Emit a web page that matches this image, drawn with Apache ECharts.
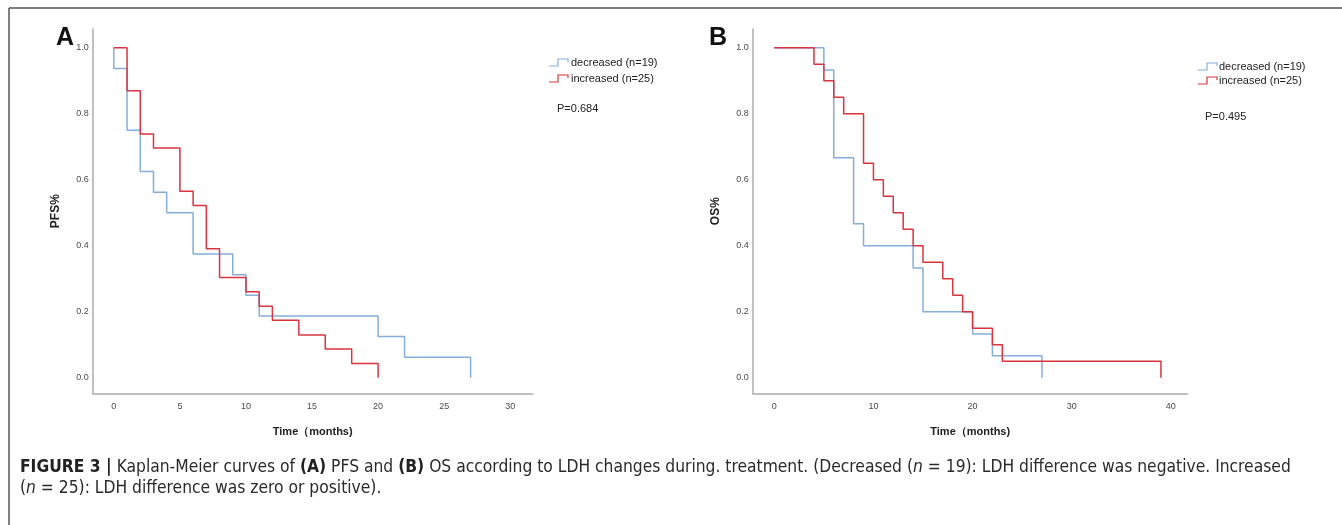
<!DOCTYPE html>
<html>
<head>
<meta charset="utf-8">
<script src="https://cdn.jsdelivr.net/npm/echarts@6/dist/echarts.min.js"></script>
<style>
html,body{margin:0;padding:0;background:#fff;}
#chart{width:1342px;height:525px;}
</style>
</head>
<body>
<div id="chart"></div>
<script>
// A: PFS
var pfs_dec_t = [0, 0, 1, 2, 3, 4, 6, 9, 10, 11, 20, 22, 27];
var pfs_dec_s = [1, 0.9375, 0.75, 0.625, 0.5625, 0.5, 0.375, 0.3125, 0.25, 0.1875, 0.125, 0.0625, 0];
var pfs_inc_t = [0, 1, 2, 3, 5, 6, 7, 8, 10, 11, 12, 14, 16, 18, 20];
var pfs_inc_s = [1, 0.87, 0.739, 0.696, 0.565, 0.522, 0.391, 0.304, 0.261, 0.217, 0.174, 0.13, 0.087, 0.043, 0];
// B: OS
var os_dec_t = [0, 5, 6, 8, 9, 14, 15, 20, 22, 27];
var os_dec_s = [1, 0.933, 0.667, 0.467, 0.4, 0.333, 0.2, 0.133, 0.067, 0];
var os_inc_t = [0, 4, 5, 6, 7, 9, 10, 11, 12, 13, 14, 15, 17, 18, 19, 20, 22, 23, 39];
var os_inc_s = [1, 0.95, 0.9, 0.85, 0.8, 0.65, 0.6, 0.55, 0.5, 0.45, 0.4, 0.35, 0.3, 0.25, 0.2, 0.15, 0.1, 0.05, 0];

var ticks_a = [0, 5, 10, 15, 20, 25, 30];
var ticks_b = [0, 10, 20, 30, 40];
var ticks_y = [0, 0.2, 0.4, 0.6, 0.8, 1.0];
var names = ['decreased (n=19)', 'increased (n=25)'];

var blue = '#86aedb';
var red = '#d9343f';
var axis_gray = '#ababab';
var lbl = {fontSize: 9, color: '#4a4a4a', fontFamily: 'Liberation Sans, Arial, sans-serif'};

function pairs(t, s){
	var out = [];
	for (var i = 0; i < t.length; i++) out.push([t[i], s[i]]);
	return out;
}

function x_axis(idx, mn, mx, ticks){
	return {
		type: 'value', gridIndex: idx, min: mn, max: mx,
		name: 'Time（months)', nameLocation: 'middle', nameGap: 33,
		nameTextStyle: {fontSize: 11, fontWeight: 'bold', color: '#222', fontFamily: 'Liberation Sans, Arial, sans-serif'},
		axisLine: {onZero: false, lineStyle: {color: axis_gray, width: 1.5}},
		axisTick: {show: false},
		splitLine: {show: false},
		axisLabel: Object.assign({customValues: ticks, margin: 9}, lbl)
	};
}

function y_axis(idx, title){
	return {
		type: 'value', gridIndex: idx, min: -0.047, max: 1.057,
		name: title, nameLocation: 'middle', nameGap: 31, nameRotate: 90,
		nameTextStyle: {fontSize: 12, fontWeight: 'bold', color: '#222', fontFamily: 'Liberation Sans, Arial, sans-serif'},
		axisLine: {show: true, onZero: false, lineStyle: {color: axis_gray, width: 1.5}},
		axisTick: {show: false},
		splitLine: {show: false},
		axisLabel: Object.assign({customValues: ticks_y, margin: 4, formatter: function(v){ return v.toFixed(1); }}, lbl)
	};
}

function km(name, xi, data, color){
	return {
		name: name, type: 'line', step: 'end',
		xAxisIndex: xi, yAxisIndex: xi,
		data: data, symbol: 'none', silent: true,
		lineStyle: {color: color, width: 1.5}
	};
}

function legend_mark(x, y, color){
	return {
		type: 'polyline', silent: true,
		shape: {points: [[x, y + 3], [x + 9, y + 3], [x + 9, y - 4], [x + 19, y - 4], [x + 19, y - 1]]},
		style: {stroke: color, lineWidth: 1.2, fill: null}
	};
}

function txt(x, y, s, size, weight, color){
	return {
		type: 'text', x: x, y: y, silent: true,
		style: {text: s, fontSize: size, fontWeight: weight || 'normal', fill: color || '#222',
			fontFamily: 'Liberation Sans, Arial, sans-serif', textVerticalAlign: 'middle', verticalAlign: 'middle'}
	};
}

var cap_font = "'Liberation Sans Narrow', 'DejaVu Sans Condensed', 'Liberation Sans', sans-serif";
var cap_rich = {
	b: {fontWeight: 'bold', fontSize: 17.3, fontFamily: cap_font, fill: '#222', color: '#222'},
	i: {fontStyle: 'italic', fontSize: 17.3, fontFamily: cap_font, fill: '#2a2a2a', color: '#2a2a2a'}
};

var my_chart = echarts.init(document.getElementById('chart'));
my_chart.setOption({
	animation: false,
	backgroundColor: '#fff',
	grid: [
		{left: 92.7, top: 29, width: 440, height: 364.3, outerBoundsMode: 'none'},
		{left: 752.7, top: 29, width: 435, height: 364.3, outerBoundsMode: 'none'}
	],
	xAxis: [x_axis(0, -1.6, 31.7, ticks_a), x_axis(1, -2.18, 41.7, ticks_b)],
	yAxis: [y_axis(0, 'PFS%'), y_axis(1, 'OS%')],
	series: [
		km(names[0], 0, pairs(pfs_dec_t, pfs_dec_s), blue),
		km(names[1], 0, pairs(pfs_inc_t, pfs_inc_s), red),
		km(names[0], 1, pairs(os_dec_t, os_dec_s), blue),
		km(names[1], 1, pairs(os_inc_t, os_inc_s), red)
	],
	graphic: [
		{type: 'line', silent: true, shape: {x1: 9, y1: 8, x2: 1342, y2: 8}, style: {stroke: '#555', lineWidth: 1.5}},
		{type: 'line', silent: true, shape: {x1: 9, y1: 8, x2: 9, y2: 525}, style: {stroke: '#555', lineWidth: 1.5}},
		txt(56, 38, 'A', 25, 'bold', '#111'),
		txt(709, 38, 'B', 25, 'bold', '#111'),
		legend_mark(549, 63, blue),
		legend_mark(549, 79, red),
		txt(571, 63, names[0], 11),
		txt(571, 79, names[1], 11),
		txt(557, 109, 'P=0.684', 11),
		legend_mark(1198, 67, blue),
		legend_mark(1198, 81, red),
		txt(1219, 67, names[0], 11),
		txt(1219, 81, names[1], 11),
		txt(1205, 117, 'P=0.495', 11),
		{
			type: 'text', x: 20, y: 457, silent: true,
			style: {
				text: '{b|FIGURE 3 |} Kaplan-Meier curves of {b|(A)} PFS and {b|(B)} OS according to LDH changes during. treatment. (Decreased ({i|n} = 19): LDH difference was negative. Increased\n({i|n} = 25): LDH difference was zero or positive).',
				fontSize: 17.3, fontFamily: cap_font, fill: '#2a2a2a', lineHeight: 21,
				textVerticalAlign: 'top', verticalAlign: 'top',
				rich: cap_rich
			}
		}
	]
});
</script>
</body>
</html>
